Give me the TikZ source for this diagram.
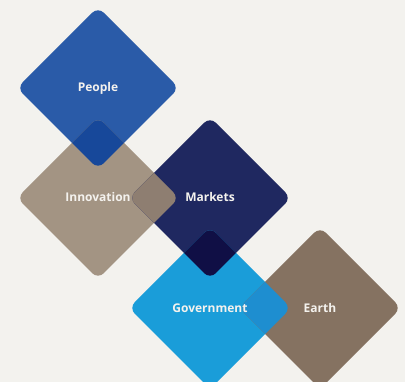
\documentclass[tikz,border=0pt]{standalone}
\usepackage{fontspec}
\setmainfont{Open Sans}
\definecolor{bg}{HTML}{F3F2EE}
\definecolor{cpeople}{HTML}{2A5BA8}
\definecolor{cinno}{HTML}{A39483}
\definecolor{cmark}{HTML}{1F2860}
\definecolor{cgov}{HTML}{1A9DD9}
\definecolor{cearth}{HTML}{857261}
\definecolor{cpi}{HTML}{17489A}
\definecolor{cim}{HTML}{8E7E71}
\definecolor{cmg}{HTML}{100F45}
\definecolor{cge}{HTML}{1E8ED0}
\definecolor{txt}{HTML}{F4F2EE}
\newcommand\dpath[2]{(#1,#2-81) -- (#1+81,#2) -- (#1,#2+81) -- (#1-81,#2) -- cycle}
\tikzset{lab/.style={text=txt,font=\bfseries\fontsize{12}{14}\selectfont,inner sep=0pt},
  dia/.style={rounded corners=8pt}}
\begin{document}
\begin{tikzpicture}[x=1pt,y=-1pt]
\fill[bg] (0,0) rectangle (405,382);
\useasboundingbox (0,0) rectangle (405,382);
\clip (0,0) rectangle (405,382);
\fill[cpeople,dia] \dpath{98}{88};
\fill[cinno,dia] \dpath{98}{198};
\fill[cmark,dia] \dpath{210}{198};
\fill[cgov,dia] \dpath{210}{308};
\fill[cearth,dia] \dpath{320}{308};
\begin{scope}\clip[dia] \dpath{98}{88}; \fill[cpi,dia] \dpath{98}{198};\end{scope}
\begin{scope}\clip[dia] \dpath{98}{198}; \fill[cim,dia] \dpath{210}{198};\end{scope}
\begin{scope}\clip[dia] \dpath{210}{198}; \fill[cmg,dia] \dpath{210}{308};\end{scope}
\begin{scope}\clip[dia] \dpath{210}{308}; \fill[cge,dia] \dpath{320}{308};\end{scope}
\node[lab] (people) at (98,88) {People};
\node[lab] (innovation) at (98,197) {Innovation};
\node[lab] (markets) at (210,197) {Markets};
\node[lab] (government) at (210,308) {Government};
\node[lab] (earth) at (320,308) {Earth};
\end{tikzpicture}
\end{document}
